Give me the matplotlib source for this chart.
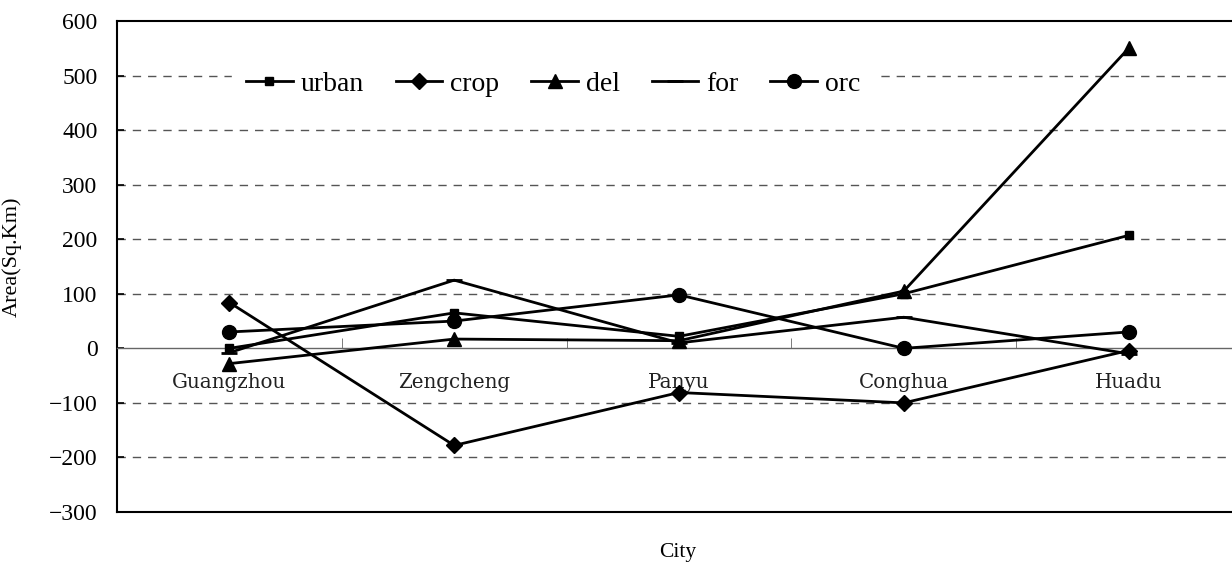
import numpy as np
import matplotlib
matplotlib.use('Agg')
import matplotlib.pyplot as plt
from matplotlib.ticker import MultipleLocator, FixedLocator

cities = ['Guangzhou', 'Zengcheng', 'Panyu', 'Conghua', 'Huadu']
urban = [0, 65, 22, 100, 207]
crop = [84, -178, -81, -100, -4]
dele = [-28, 17, 14, 105, 550]
forest = [-8, 125, 10, 57, -10]
orc = [30, 50, 98, 0, 30]

series = [
    ('urban', urban, 's', 6),
    ('crop', crop, 'D', 8),
    ('del', dele, '^', 10),
    ('for', forest, '_', 12),
    ('orc', orc, 'o', 10),
]

fig = plt.figure(figsize=(12.32, 5.65), dpi=100)
ax = fig.add_axes([117/1232, 53/565, 1124/1232, 491/565])

x = np.arange(len(cities))
handles = []
for name, vals, mk, ms in series:
    h, = ax.plot(x, vals, color='black', lw=2, marker=mk, markersize=ms,
                 markeredgewidth=2 if mk == '_' else 1, label=name, zorder=3)
    handles.append(h)

ax.set_xlim(-0.5, 4.5)
ax.set_ylim(-300, 600)

# dashed grid
for g in [-200, -100, 100, 200, 300, 400, 500]:
    ax.axhline(g, color='#555555', lw=1, ls=(0, (6, 5)), zorder=1)

# spines
ax.spines['right'].set_visible(False)
ax.spines['top'].set_linewidth(1.5)
ax.spines['left'].set_linewidth(1.5)
ax.spines['bottom'].set_position(('data', 0))
ax.spines['bottom'].set_color('#666666')
ax.spines['bottom'].set_linewidth(1)
ax.axhline(-300, color='black', lw=1.5, zorder=2, clip_on=False)

ax.yaxis.set_major_locator(MultipleLocator(100))
ax.tick_params(axis='y', direction='in', length=5, width=1.2, labelsize=17, pad=14)
for lab in ax.get_yticklabels():
    lab.set_family('Liberation Serif')

ax.set_xticks(x)
ax.set_xticklabels(cities, family='DejaVu Serif', fontsize=14.3, color='#222222')
ax.tick_params(axis='x', which='major', length=0, pad=18)
ax.xaxis.set_minor_locator(FixedLocator(x[:-1] + 0.5))
ax.tick_params(axis='x', which='minor', direction='in', length=7, color='#666666')

ax.set_ylabel('Area(Sq.Km)', family='Liberation Serif', fontsize=16)
ax.yaxis.set_label_coords(-0.085, 0.52)
fig.text(678/1232, 1 - 553/565, 'City', family='Liberation Serif', fontsize=15.5,
         ha='center', va='center')

leg = ax.legend(handles=handles, ncol=5, loc='center', bbox_to_anchor=(0.388, 0.872),
                frameon=True, edgecolor='white', framealpha=1, fancybox=False,
                prop={'family': 'Liberation Serif', 'size': 20},
                handlelength=1.68, handletextpad=0.29, columnspacing=1.14,
                borderpad=0.5, borderaxespad=0)
leg.set_zorder(4)

plt.savefig('out.png', dpi=100)
